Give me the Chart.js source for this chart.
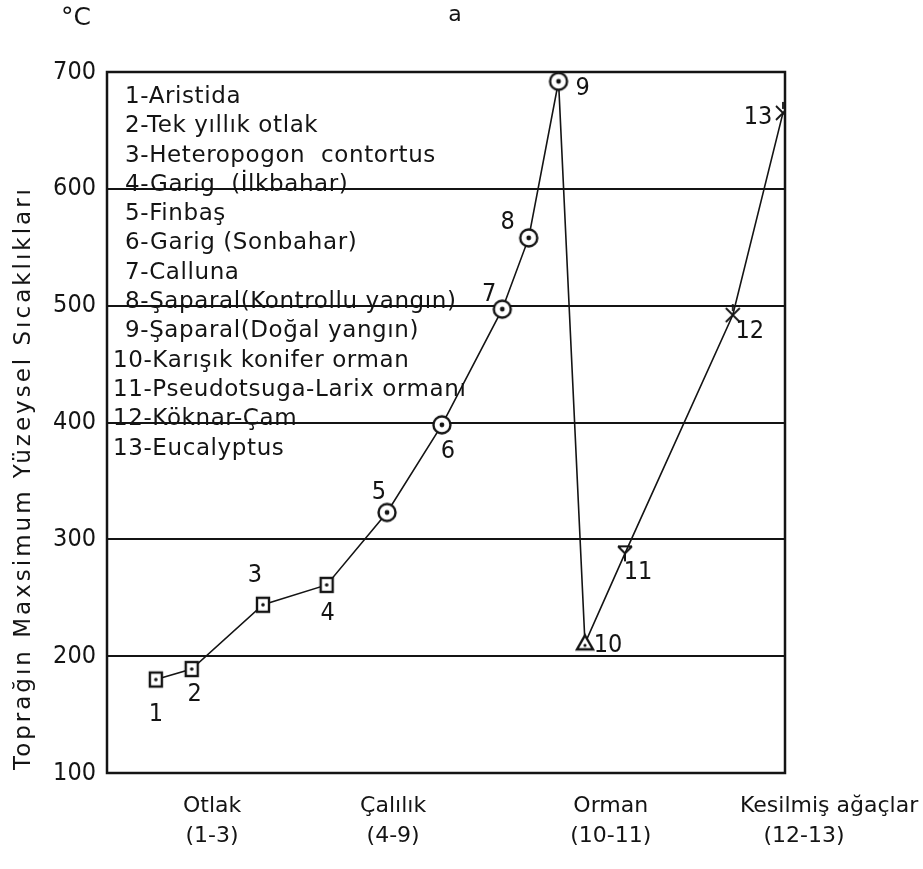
<!DOCTYPE html>
<html><head><meta charset="utf-8">
<script src="https://cdn.jsdelivr.net/npm/chart.js@4/dist/chart.umd.min.js"></script>
<style>html,body{margin:0;padding:0;background:#fff}</style>
</head><body>
<canvas id="c" width="923" height="869"></canvas>
<script>
// ---- data ----
const pointNumbers = [1,2,3,4,5,6,7,8,9,10,11,12,13];
const speciesNames = [
  'Aristida','Tek yıllık otlak','Heteropogon  contortus','Garig  (İlkbahar)','Finbaş',
  'Garig (Sonbahar)','Calluna','Şaparal(Kontrollu yangın)','Şaparal(Doğal yangın)',
  'Karışık konifer orman','Pseudotsuga-Larix ormanı','Köknar-Çam','Eucalyptus'
];
const gradientPos = [7.2, 12.5, 23.0, 32.4, 41.3, 49.4, 58.3, 62.2, 66.6, 70.5, 76.4, 92.3, 99.7];
const maxTemp = [180, 189, 244, 261, 323, 398, 497, 558, 692, 211, 288, 492, 665];
const markerKind = ['square','square','square','square','circle','circle','circle','circle','circle','triangle','y','cross','cross'];
const yTicks = [100, 200, 300, 400, 500, 600, 700];
const groupNames = ['Otlak', 'Çalılık', 'Orman', 'Kesilmiş ağaçlar'];
const groupRanges = ['(1-3)', '(4-9)', '(10-11)', '(12-13)'];
const groupPos = [15.5, 42.2, 74.3, 106.5];
const yTitle = 'Toprağın Maxsimum Yüzeysel Sıcaklıkları';

// ---- style / layout ----
const INK = '#141414';
const FONT = '"DejaVu Sans", sans-serif';
const FONT_C = '"DejaVu Sans Condensed", "DejaVu Sans", sans-serif';
const labelOffsets = [[0,35],[3,25],[-8,-29],[1,29],[-8,-20],[6,27],[-13,-15],[-21,-15],[24,7],[23,2],[13,19],[17,16],[-25,5]];

function marker(kind){
  const s = 28, c = document.createElement('canvas');
  c.width = s; c.height = s;
  const g = c.getContext('2d'), m = s/2;
  g.strokeStyle = INK; g.lineWidth = 2.4;
  if (kind === 'square'){
    g.fillStyle = '#fff'; g.fillRect(m-6, m-7, 12, 14);
    g.strokeRect(m-6, m-7, 12, 14);
    g.fillStyle = INK; g.beginPath(); g.arc(m, m, 1.8, 0, Math.PI*2); g.fill();
  } else if (kind === 'circle'){
    g.fillStyle = '#fff'; g.beginPath(); g.arc(m, m, 8.5, 0, Math.PI*2); g.fill(); g.stroke();
    g.fillStyle = INK; g.beginPath(); g.arc(m, m, 2.4, 0, Math.PI*2); g.fill();
  } else if (kind === 'triangle'){
    g.fillStyle = '#fff';
    g.beginPath(); g.moveTo(m, m-8); g.lineTo(m+8, m+6); g.lineTo(m-8, m+6); g.closePath(); g.fill(); g.stroke();
    g.fillStyle = INK; g.beginPath(); g.arc(m, m+2, 1.6, 0, Math.PI*2); g.fill();
  } else if (kind === 'y'){
    g.lineWidth = 2;
    g.beginPath(); g.moveTo(m-7, m-7); g.lineTo(m, m); g.lineTo(m+7, m-7);
    g.moveTo(m, m); g.lineTo(m, m+8); g.moveTo(m-7,m-7); g.lineTo(m+7,m-7); g.stroke();
  } else {
    g.lineWidth = 1.8;
    g.beginPath(); g.moveTo(m-7, m-7); g.lineTo(m+7, m+7); g.moveTo(m+7, m-7); g.lineTo(m-7, m+7);
    g.moveTo(m, m-11); g.lineTo(m, m-4); g.stroke();
  }
  return c;
}

const decor = {
  id: 'decor',
  afterDraw(chart){
    const ctx = chart.ctx, a = chart.chartArea, xs = chart.scales.x;
    ctx.save();
    ctx.strokeStyle = INK; ctx.lineWidth = 2.5;
    ctx.strokeRect(a.left, a.top, a.right - a.left, a.bottom - a.top);
    ctx.fillStyle = INK;
    // legend list
    ctx.font = '23px ' + FONT; ctx.textAlign = 'left'; ctx.textBaseline = 'middle';
    ctx.letterSpacing = '0.6px';
    pointNumbers.forEach((n, i) => {
      const x = n >= 10 ? a.left + 6 : a.left + 18;
      ctx.fillText(n + '-' + speciesNames[i], x, a.top + 25 + i * 29.3);
    });
    ctx.letterSpacing = '0px';
    // point numbers
    ctx.textAlign = 'center';
    ctx.font = '25px ' + FONT_C;
    const meta = chart.getDatasetMeta(0);
    meta.data.forEach((p, i) => {
      ctx.fillText(String(pointNumbers[i]), p.x + labelOffsets[i][0], p.y + labelOffsets[i][1]);
    });
    // group labels
    ctx.font = '22px ' + FONT;
    groupPos.forEach((v, i) => {
      const px = xs.getPixelForValue(v);
      ctx.fillText(groupNames[i], px, a.bottom + 33);
      ctx.fillText(groupRanges[i], i === 3 ? px - 25 : px, a.bottom + 63);
    });
    // y title
    ctx.save();
    ctx.translate(24, 478);
    ctx.rotate(-Math.PI / 2);
    ctx.font = '23px ' + FONT;
    ctx.letterSpacing = '3px';
    ctx.fillText(yTitle, 0, 0);
    ctx.restore();
    // unit and panel letter
    ctx.font = '25px ' + FONT;
    ctx.fillText('°C', 76, 18);
    ctx.font = '22px ' + FONT;
    ctx.fillText('a', 455, 15);
    ctx.restore();
  }
};

new Chart(document.getElementById('c'), {
  type: 'scatter',
  data: {
    datasets: [{
      data: gradientPos.map((x, i) => ({x, y: maxTemp[i]})),
      showLine: true,
      borderColor: INK,
      borderWidth: 1.6,
      pointStyle: markerKind.map(marker),
      pointRadius: 8,
      pointHoverRadius: 8
    }]
  },
  options: {
    responsive: false,
    animation: false,
    devicePixelRatio: 1,
    layout: { padding: { top: 72, right: 138, left: 0, bottom: 0 } },
    plugins: { legend: { display: false }, tooltip: { enabled: false } },
    scales: {
      x: {
        type: 'linear', min: 0, max: 100,
        grid: { display: false },
        border: { display: false },
        ticks: { display: false },
        afterFit(s){ s.height = 96; }
      },
      y: {
        type: 'linear', min: 100, max: 700,
        afterBuildTicks(s){ s.ticks = yTicks.map(v => ({value: v})); },
        grid: { color: INK, lineWidth: 2, drawTicks: false },
        border: { display: false },
        ticks: { color: INK, padding: 11, font: { family: FONT_C, size: 25 } },
        afterFit(s){ s.width = 107; }
      }
    }
  },
  plugins: [decor]
});
</script>
</body></html>
